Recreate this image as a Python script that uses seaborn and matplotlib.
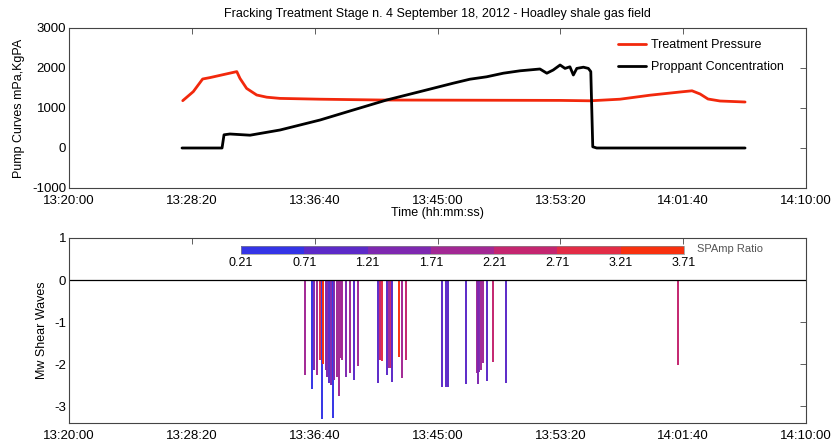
import pandas as pd
import seaborn as sns
import matplotlib.pyplot as plt
import matplotlib.dates as mdates
from matplotlib.colors import ListedColormap, BoundaryNorm
from matplotlib.cm import ScalarMappable

day = "2012-09-18 "

# treatment pressure (red curve)
pressure_time = ["13:27:43", "13:28:26", "13:29:04", "13:29:34", "13:31:23", "13:31:36",
                 "13:32:03", "13:32:44", "13:33:25", "13:34:19", "13:37:02", "13:41:06",
                 "13:53:19", "13:55:21", "13:57:23", "13:59:25", "14:01:27", "14:02:16",
                 "14:02:49", "14:03:21", "14:04:10", "14:05:52"]
pressure_value = [1183, 1410, 1725, 1760, 1910, 1740, 1490, 1325, 1270, 1240, 1220, 1200,
                  1190, 1180, 1220, 1320, 1400, 1430, 1350, 1225, 1175, 1150]

# proppant concentration (black curve)
proppant_time = ["13:27:40", "13:30:23", "13:30:31", "13:30:55", "13:32:17", "13:34:19",
                 "13:37:02", "13:39:17", "13:41:33", "13:43:49", "13:46:04", "13:47:12",
                 "13:48:20", "13:49:28", "13:50:36", "13:51:57", "13:52:25", "13:52:51",
                 "13:53:19", "13:53:39", "13:53:59", "13:54:13", "13:54:27", "13:54:54",
                 "13:55:14", "13:55:24", "13:55:32", "13:55:48", "14:05:52"]
proppant_value = [0, 0, 330, 350, 320, 450, 700, 950, 1200, 1410, 1620, 1720, 1780, 1870,
                  1930, 1975, 1870, 1950, 2075, 1990, 2030, 1825, 1990, 2020, 1990, 1910,
                  30, 0, 0]

# microseismic events
event_time = ["13:36:02", "13:36:30", "13:36:38", "13:36:48", "13:37:02", "13:37:10",
              "13:37:14", "13:37:25", "13:37:31", "13:37:38", "13:37:45", "13:37:53",
              "13:38:00", "13:38:10", "13:38:18", "13:38:26", "13:38:33", "13:38:48",
              "13:39:04", "13:39:20", "13:39:38", "13:40:58", "13:41:06", "13:41:13",
              "13:41:36", "13:41:41", "13:41:49", "13:41:55", "13:42:22", "13:42:36",
              "13:42:52", "13:45:17", "13:45:35", "13:45:44", "13:46:56", "13:47:40",
              "13:47:44", "13:47:49", "13:47:56", "13:48:04", "13:48:23", "13:48:45",
              "13:49:39", "14:01:19"]
event_mw = [-2.26, -2.6, -2.15, -2.25, -1.9, -3.3, -2.0, -2.15, -2.3, -2.45, -2.5, -3.27,
            -2.37, -2.3, -2.75, -1.85, -1.9, -2.3, -2.2, -2.37, -2.05, -2.45, -1.9, -1.93,
            -2.25, -2.1, -2.1, -2.43, -1.83, -2.33, -1.9, -2.55, -2.55, -2.55, -2.47, -2.2,
            -2.47, -2.18, -2.13, -1.98, -2.4, -1.95, -2.45, -2.02]
event_ratio = [1.9, 0.5, 1.4, 2.0, 3.0, 0.4, 3.3, 1.4, 1.3, 1.0, 1.4, 0.4,
               1.5, 1.9, 1.8, 2.1, 2.0, 1.5, 2.0, 1.1, 2.0, 0.9, 2.6, 2.8,
               1.2, 2.2, 2.5, 1.1, 3.4, 1.9, 2.6, 0.9, 0.9, 1.0, 1.0, 1.9,
               1.3, 1.4, 2.1, 2.2, 1.1, 2.5, 1.0, 2.5]

ratio_bounds = [0.21, 0.71, 1.21, 1.71, 2.21, 2.71, 3.21, 3.71]
tick_times = ["13:20:00", "13:28:20", "13:36:40", "13:45:00", "13:53:20", "14:01:40", "14:10:00"]


def to_dt(times):
    return pd.to_datetime([day + t for t in times])


sns.set_style("white")
plt.rcParams['font.family'] = ['Liberation Sans', 'DejaVu Sans']
plt.rcParams['axes.unicode_minus'] = False
plt.rcParams['text.color'] = 'black'
plt.rcParams['axes.labelcolor'] = 'black'
plt.rcParams['xtick.color'] = 'black'
plt.rcParams['ytick.color'] = 'black'

cmap = ListedColormap(['#3434e6', '#5c2ac8', '#7e28b0', '#a22894', '#c42670', '#e22c46', '#f8300e'])
norm = BoundaryNorm(ratio_bounds, cmap.N)

fig = plt.figure(figsize=(8.33, 4.45), dpi=100)
ax1 = fig.add_axes([69 / 833, 1 - 188 / 445, 737 / 833, 160 / 445])
ax2 = fig.add_axes([69 / 833, 1 - 423 / 445, 737 / 833, 185 / 445])

sns.lineplot(x=to_dt(pressure_time), y=pressure_value, color='#f2280c', lw=2,
             label='Treatment Pressure', ax=ax1)
sns.lineplot(x=to_dt(proppant_time), y=proppant_value, color='black', lw=2,
             label='Proppant Concentration', ax=ax1)
ax1.set_ylim(-1000, 3000)
ax1.set_yticks([-1000, 0, 1000, 2000, 3000])
ax1.set_ylabel('Pump Curves mPa,KgPA', fontsize=9)
ax1.yaxis.set_label_coords(-0.060, 0.5)
ax1.set_xlabel('Time (hh:mm:ss)', fontsize=9, labelpad=0)
ax1.set_title('Fracking Treatment Stage n. 4 September 18, 2012 - Hoadley shale gas field',
              fontsize=9, pad=8)
ax1.legend(loc='upper right', bbox_to_anchor=(0.985, 1.0), frameon=False, fontsize=9,
           labelspacing=0.8, handlelength=2.2, handletextpad=0.4)

ax2.vlines(to_dt(event_time), 0, event_mw, colors=cmap(norm(event_ratio)), lw=1.4)
ax2.axhline(0, color='black', lw=0.9)
ax2.set_ylim(-3.4, 1)
ax2.set_yticks([-3, -2, -1, 0, 1])
ax2.set_ylabel('Mw Shear Waves', fontsize=9)
ax2.yaxis.set_label_coords(-0.029, 0.5)

for ax in (ax1, ax2):
    ax.set_xlim(to_dt(tick_times)[0], to_dt(tick_times)[-1])
    ax.set_xticks(to_dt(tick_times))
    ax.xaxis.set_major_formatter(mdates.DateFormatter('%H:%M:%S'))
    ax.tick_params(direction='in', top=True, right=True, length=4, width=0.6,
                   labelsize=9.5, pad=2, color='#444444')
    ax.tick_params(axis='x', pad=5)
    for sp in ax.spines.values():
        sp.set_color('#444444')
        sp.set_linewidth(0.8)

cax = fig.add_axes([241 / 833, 1 - 254 / 445, 443 / 833, 8 / 445])
cb = fig.colorbar(ScalarMappable(norm=norm, cmap=cmap), cax=cax, orientation='horizontal',
                  ticks=ratio_bounds)
cb.ax.set_xticklabels([f"{b:.2f}" for b in ratio_bounds])
cb.ax.tick_params(length=0, labelsize=9, pad=2)
cb.outline.set_linewidth(0.5)
cb.outline.set_edgecolor('#888888')
fig.text(697 / 833, 1 - 249 / 445, 'SPAmp Ratio', fontsize=8, color='#555555', va='center')

fig.savefig('out.png', dpi=100)
